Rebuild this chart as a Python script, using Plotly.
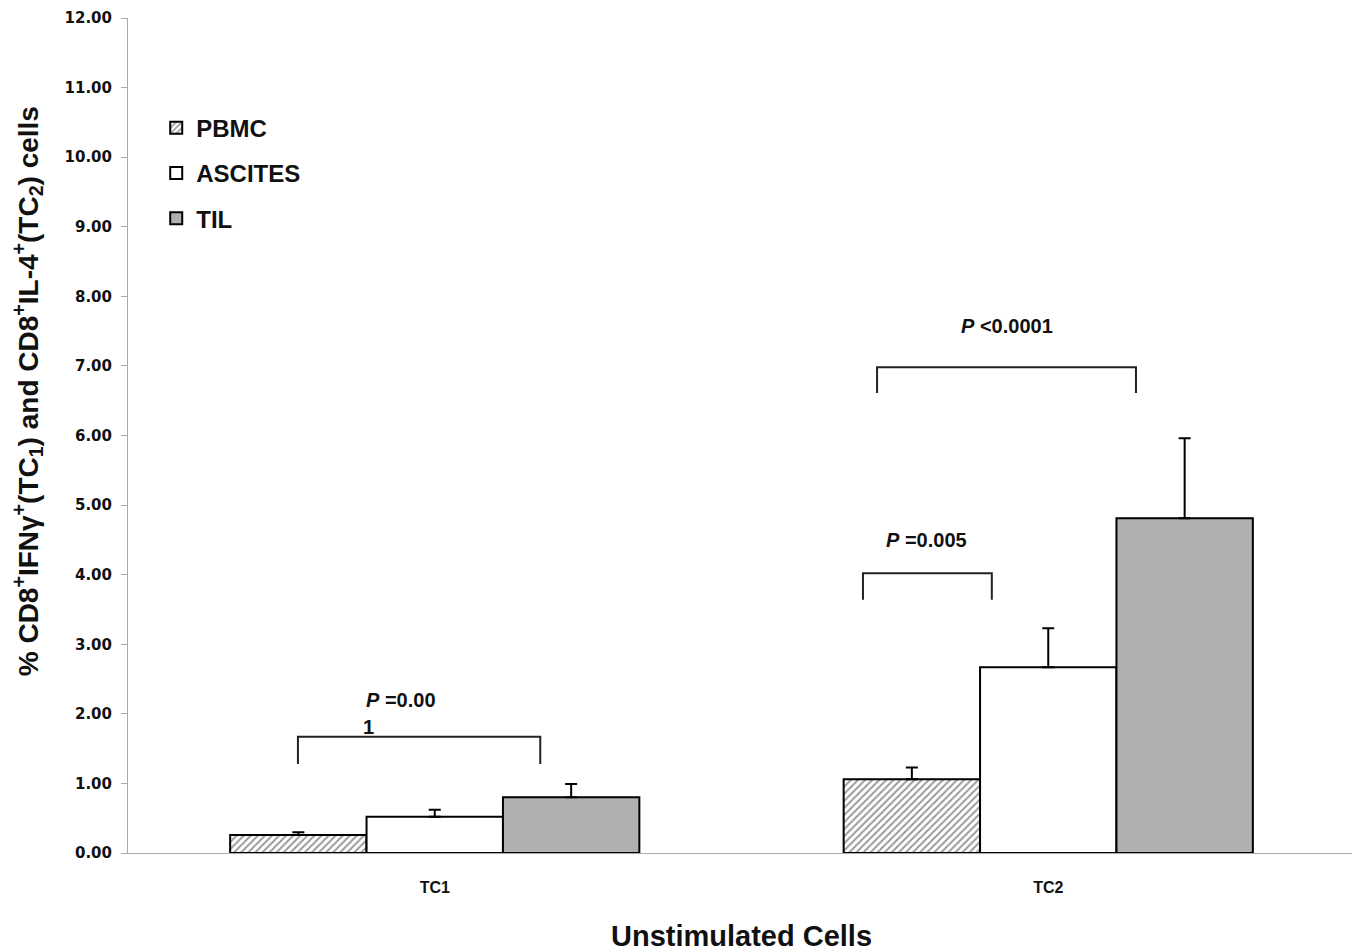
import plotly.graph_objects as go

categories = ["TC1", "TC2"]
groups = ["PBMC", "ASCITES", "TIL"]
pbmc = [0.26, 1.06]
ascites = [0.52, 2.67]
til = [0.80, 4.81]
pbmc_err = [0.04, 0.17]
ascites_err = [0.10, 0.56]
til_err = [0.19, 1.15]

y_ticks = [i for i in range(0, 13)]
y_tick_labels = [f"{v:.2f}" for v in y_ticks]

# significance brackets: (x0, x1, y_top, y_bottom)
brackets = [
    (-0.223, 0.172, 1.67, 1.28),
    (0.698, 0.908, 4.02, 3.64),
    (0.721, 1.143, 6.98, 6.61),
]
p_labels = [
    ("<i>P</i> =0.00", -0.055, 2.20),
    ("1", -0.108, 1.81),
    ("<i>P</i> =0.005", 0.802, 4.50),
    ("<i>P</i> <0.0001", 0.932, 7.57),
]

y_title = "<b>% CD8<sup>+</sup>IFNγ<sup>+</sup>(TC<sub>1</sub>) and CD8<sup>+</sup>IL-4<sup>+</sup>(TC<sub>2</sub>) cells</b>"

FONT = "Liberation Sans, Arial, sans-serif"
fig = go.Figure()

err_style = dict(type="data", symmetric=False, color="black", thickness=2, width=6)

fig.add_trace(go.Bar(
    name="<b>PBMC</b>", x=categories, y=pbmc, legendgroup="a",
    marker=dict(color="white", line=dict(color="black", width=2),
                pattern=dict(shape="/", fgcolor="#333333", bgcolor="white", size=5, solidity=0.4)),
    error_y=dict(array=pbmc_err, arrayminus=[0, 0], **err_style),
))
fig.add_trace(go.Bar(
    name="<b>ASCITES</b>", x=categories, y=ascites, legendgroup="b",
    marker=dict(color="white", line=dict(color="black", width=2)),
    error_y=dict(array=ascites_err, arrayminus=[0, 0], **err_style),
))
fig.add_trace(go.Bar(
    name="<b>TIL</b>", x=categories, y=til, legendgroup="c",
    marker=dict(color="#b0b0b0", line=dict(color="black", width=2)),
    error_y=dict(array=til_err, arrayminus=[0, 0], **err_style),
))

for x0, x1, yt, yb in brackets:
    fig.add_shape(type="path", xref="x", yref="y",
                  path=f"M {x0},{yb} L {x0},{yt} L {x1},{yt} L {x1},{yb}",
                  line=dict(color="#222222", width=2))

for txt, x, y in p_labels:
    fig.add_annotation(x=x, y=y, xref="x", yref="y", text=f"<b>{txt}</b>",
                       showarrow=False, font=dict(family=FONT, size=20, color="#111111"))

# y-axis title (placed off-centre like the original)
fig.add_annotation(x=-0.0815, y=0.553, xref="paper", yref="paper", text=y_title,
                   textangle=-90, showarrow=False, xanchor="center", yanchor="middle",
                   font=dict(family=FONT, size=28, color="#111111"))

fig.update_layout(
    width=1352, height=944,
    margin=dict(l=120, r=5, t=10, b=99),
    paper_bgcolor="white", plot_bgcolor="white",
    barmode="group", bargap=0.333, bargroupgap=0,
    showlegend=True,
    legend=dict(x=0.023, y=0.895, xanchor="left", yanchor="top",
                font=dict(family=FONT, size=24, color="#111111"),
                tracegroupgap=11, traceorder="grouped", bgcolor="rgba(0,0,0,0)"),
    font=dict(family=FONT, color="#111111"),
)
fig.update_xaxes(
    type="category", showline=True, linecolor="#aaaaaa", linewidth=1,
    ticks="", tickfont=dict(family=FONT, size=16, color="#111111"),
    tickvals=categories, ticktext=[f"<b>{c}</b>" for c in categories],
    ticklabelstandoff=20, automargin=False,
    title=dict(text="<b>Unstimulated Cells</b>", font=dict(family=FONT, size=29, color="#111111"), standoff=30),
    showgrid=False, range=[-0.5, 1.5],
)
fig.update_yaxes(
    range=[0, 12], showline=True, linecolor="#aaaaaa", linewidth=1,
    ticks="outside", ticklen=6, tickcolor="#aaaaaa", ticklabelstandoff=6,
    tickvals=y_ticks, ticktext=[f"<b>{t}</b>" for t in y_tick_labels],
    tickfont=dict(family="DejaVu Sans, sans-serif", size=15, color="#111111"),
    showgrid=False, zeroline=False, automargin=False,
)

fig.write_html("out.html")
